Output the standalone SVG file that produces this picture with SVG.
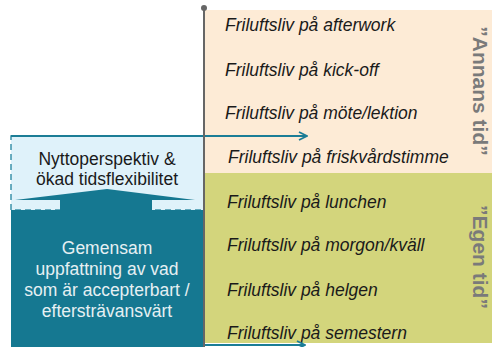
<svg xmlns="http://www.w3.org/2000/svg" width="492" height="347" viewBox="0 0 492 347">
<defs>
<style>
.it{font-family:"Liberation Sans",Arial,sans-serif;font-style:italic;font-size:17.5px;fill:#1a1a1a}
.lt{font-family:"Liberation Sans",Arial,sans-serif;font-size:17.5px;text-anchor:middle}
.rot{font-family:"Liberation Sans",Arial,sans-serif;font-weight:bold;font-size:21px;fill:#7a7a7a;text-anchor:middle}
</style>
<marker id="ah" viewBox="0 0 10 10" refX="9" refY="5" markerWidth="10" markerHeight="10" markerUnits="userSpaceOnUse" orient="auto">
<path d="M1,1 L9,5 L1,9" fill="none" stroke="#1b7d96" stroke-width="1.8"/>
</marker>
</defs>
<rect width="492" height="347" fill="#fff"/>
<g id="annans">
<rect x="205" y="10" width="287" height="163" fill="#fdebd6"/>
<text class="it" x="225" y="31">Friluftsliv på afterwork</text>
<text class="it" x="225" y="76">Friluftsliv på kick-off</text>
<text class="it" x="225" y="119">Friluftsliv på möte/lektion</text>
<text class="it" x="228" y="163">Friluftsliv på friskvårdstimme</text>
<text class="rot" transform="translate(473,91) rotate(90)">”Annans tid”</text>
</g>
<g id="egen">
<rect x="205" y="173" width="287" height="170" fill="#d3d57c"/>
<text class="it" x="227" y="208">Friluftsliv på lunchen</text>
<text class="it" x="227" y="251">Friluftsliv på morgon/kväll</text>
<text class="it" x="227" y="296">Friluftsliv på helgen</text>
<text class="it" x="227" y="339">Friluftsliv på semestern</text>
<text class="rot" transform="translate(473,257) rotate(90)">”Egen tid”</text>
</g>
<g id="nytto">
<rect x="11" y="136" width="193" height="74" fill="#dff2fa" stroke="#3b93ab" stroke-width="1.5" stroke-dasharray="6,4"/>
<path d="M15,200 L107,189 L195,200 Z" fill="#157891"/>
<rect x="60" y="199" width="92" height="11" fill="#157891"/>
<text class="lt" x="107" y="165" fill="#1a1a1a">Nyttoperspektiv &amp;</text>
<text class="lt" x="107" y="185" fill="#1a1a1a">ökad tidsflexibilitet</text>
</g>
<g id="gemensam">
<rect x="11" y="210" width="193" height="137" fill="#157891"/>
<text class="lt" x="107" y="254" fill="#e6f0f3">Gemensam</text>
<text class="lt" x="107" y="275" fill="#e6f0f3">uppfattning av vad</text>
<text class="lt" x="107" y="296" fill="#e6f0f3">som är accepterbart /</text>
<text class="lt" x="107" y="317" fill="#e6f0f3">eftersträvansvärt</text>
</g>
<g id="connectors">
<line x1="11" y1="136" x2="307" y2="136" stroke="#1b7d96" stroke-width="1.8" marker-end="url(#ah)"/>
<line x1="205" y1="345" x2="305" y2="345" stroke="#1b7d96" stroke-width="1.8" marker-end="url(#ah)"/>
<line x1="204" y1="8" x2="204" y2="347" stroke="#666" stroke-width="2"/>
<circle cx="204" cy="8" r="3" fill="#666"/>
</g>
</svg>
